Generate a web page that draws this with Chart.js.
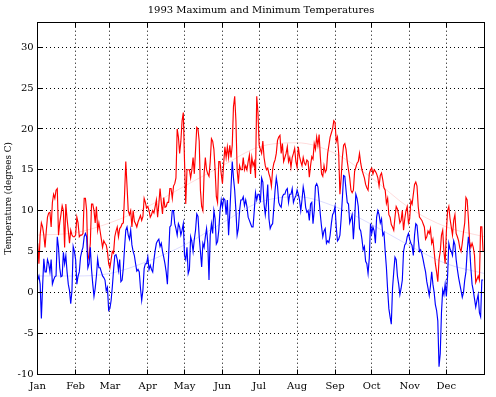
<!DOCTYPE html>
<html>
<head>
<meta charset="utf-8">
<title>1993 Maximum and Minimum Temperatures</title>
<script src="https://cdn.jsdelivr.net/npm/chart.js@4/dist/chart.umd.min.js"></script>
<style>
  html, body { margin: 0; padding: 0; background: #fff; }
  canvas { display: block; }
</style>
</head>
<body>
<canvas id="tempChart" width="496" height="397"></canvas>
<script>
// month ticks (day of year of the 1st of each month)
const monthLabels = ['Jan', 'Feb', 'Mar', 'Apr', 'May', 'Jun', 'Jul', 'Aug', 'Sep', 'Oct', 'Nov', 'Dec'];
const monthStarts = [1, 32, 60, 91, 121, 152, 182, 213, 244, 274, 305, 335];
const yTicks = [-10, -5, 0, 5, 10, 15, 20, 25, 30];

// daily maximum, degrees C (1 Jan .. 31 Dec)
const maxTemps = [
  6, 3.5, 7, 8.5, 8, 7, 5.5, 7.5, 9.2, 9.7,
  9.8, 8, 11, 12, 11.5, 12.5, 12.7, 7, 8.5, 9.5,
  10.6, 10, 5.5, 10.8, 9, 7.6, 6, 7.6, 7, 6.8,
  6.8, 7, 9.2, 8.5, 6.8, 7, 7, 7.2, 11.5, 11.5,
  10, 4, 4.5, 6, 10.8, 10.8, 10, 8.5, 10.5, 7.6,
  8.5, 7.5, 6.5, 5.5, 6.3, 6, 5.8, 5, 3.5, 3,
  4, 5, 4.8, 6.8, 7.5, 8, 6.8, 7.8, 8, 8.4,
  8.5, 12, 16, 13, 10, 9.5, 10, 8, 10, 8.7,
  8.4, 8, 8.6, 9, 9.4, 8.8, 9.3, 11.5, 11, 10.3,
  10.5, 10, 9.2, 9.5, 10, 9.7, 10.5, 11.3, 9.2, 10.8,
  12.7, 11, 9.6, 11.6, 10.4, 10.5, 11, 11, 12.7, 12.7,
  11.5, 13, 13.3, 14, 20, 19, 17, 18.5, 21, 22,
  16, 10.8, 15, 15, 15, 14, 15, 16.5, 14.5, 17.4,
  20.2, 20, 18.5, 12.5, 10.5, 10, 14.5, 16.5, 15, 14.5,
  14.2, 16, 18.8, 18.5, 17.5, 15, 11.7, 11, 16, 16,
  14.5, 13.3, 15.8, 17.8, 16.5, 17.8, 16.5, 18, 16.5, 18,
  22.7, 24, 21, 15, 13.3, 15.5, 15, 15, 16.5, 15,
  15.5, 15, 16, 16.8, 14.5, 16.5, 15.5, 16, 14, 24,
  22, 18, 17.5, 17, 18.5, 16.5, 15.5, 15, 15.2, 14.5,
  14, 13, 15, 15.8, 16.2, 17, 18.6, 19, 19.2, 17,
  18.2, 16, 16.5, 17, 17.8, 16, 16.5, 15.3, 16.5, 17,
  17.6, 16, 15.3, 17.8, 16.6, 16, 15.5, 16.5, 15.8, 15.6,
  16.2, 16, 14.1, 15.5, 16.6, 16.3, 18.2, 17.5, 19, 18,
  19.3, 16.6, 14.5, 14.2, 15.5, 14.7, 15, 17, 18, 19,
  19.5, 20, 21, 20.8, 18.5, 19, 17, 12, 14, 16.5,
  18, 18.2, 17.5, 16, 15, 14, 12.5, 12.2, 12.5, 14.8,
  15.3, 15.8, 16, 17, 15.8, 15, 14.5, 14, 13.2, 12.8,
  12.5, 14.5, 15, 15.2, 14.5, 15, 14.8, 14.5, 14, 13,
  14.3, 14.6, 13.8, 12.8, 12.5, 10.9, 11.5, 9.5, 9.2, 8.3,
  8, 7.6, 9.2, 10.5, 10.2, 9.5, 8.5, 8.8, 10, 7.6,
  9, 10, 10.5, 8.5, 9, 11.2, 10.8, 12, 13.2, 13.5,
  13, 10.5, 9.2, 9, 8.8, 8.4, 8, 6.5, 6.8, 7.5,
  7.2, 7.8, 6, 6.5, 5, 3.5, 2.5, 1.3, 4, 5,
  7, 7.6, 5, 3.5, 7.4, 10, 10.5, 9, 8, 7,
  8.8, 9.5, 7.2, 6.8, 6.3, 5.4, 5, 6, 7.4, 8.5,
  11.6, 11.3, 9, 6.2, 5.5, 6, 5.5, 4.5, 1.2, 1.6,
  2, 1.5, 8, 8, 5
];

// daily minimum, degrees C
const minTemps = [
  1.5, 2, 1, -3.2, 0.7, 4.1, 2.5, 2.5, 4, 3.5,
  2.5, 4, 1, 1.5, 1.9, 2, 6.8, 5.5, 3, 1.9,
  2, 4.9, 3.5, 4.5, 2.5, 1, 0.2, -1.4, 0.2, 5.6,
  5, 4, 1, 2, 2.5, 4.3, 5, 5.5, 6.8, 7.2,
  6.8, 3, 3.5, 5.5, 2.8, 1, -0.5, 0.5, 2, 4.1,
  3, 3, 2.5, 2, 1.8, 1.5, 0.2, 0.6, -2.2, -2,
  -1, 0.7, 2.7, 4.5, 4.6, 4, 2.7, 4, 1.3, 1.5,
  3, 5.5, 7.6, 8, 7, 6.5, 7.6, 5.8, 5, 4.5,
  3.5, 2.6, 2.8, 2.5, 0.5, -1, 0.3, 2.9, 3.5, 3.5,
  4.3, 2.8, 3.3, 2.8, 2.5, 4, 5.1, 6, 6.3, 6.5,
  5.6, 6, 5, 4.3, 3.5, 2.5, 1, 4.5, 8, 8.2,
  10, 10, 8.4, 7.8, 7, 8.4, 8, 7, 7.6, 8.4,
  4.5, 4, 5.5, 2.3, 2.8, 6.8, 6.2, 5, 6.5, 7.6,
  9.6, 9.3, 6.8, 5, 3.1, 6, 5.5, 6.8, 7.8, 6,
  1.5, 7, 8.4, 7.2, 10, 9, 5.9, 6.2, 7.6, 10,
  11.3, 10.4, 11.5, 11.3, 9.5, 11.3, 7, 9.7, 12.9, 16,
  14, 12.5, 10, 7, 7.8, 10, 11.3, 11.3, 11.7, 10.6,
  11.3, 10.5, 9.2, 8.8, 8.4, 8, 8, 10, 12.2, 11.3,
  12, 12, 11, 14, 13.5, 10.8, 9.5, 11, 13.2, 9,
  7.8, 8.2, 8.4, 10.4, 12.5, 14, 13, 11, 10.6, 10.4,
  11.7, 12, 12, 12.5, 12.7, 11, 12, 12, 12.7, 11,
  11.5, 11.8, 12.5, 12, 11.3, 10, 11.3, 12.9, 12, 10.4,
  9.8, 10, 8.8, 10.8, 11, 8.4, 10, 13, 13.3, 12.9,
  11.3, 9.5, 8, 6.8, 7.5, 7.8, 6, 6.3, 6.1, 7,
  8.4, 9.5, 9.8, 10.5, 8, 6.3, 6.5, 7, 9, 11.5,
  14.3, 14.2, 12.5, 11, 10.8, 8.5, 9, 9.5, 6.5, 8.8,
  12, 11.5, 10.5, 7.8, 7.5, 6.5, 5.2, 5.6, 3.8, 3.5,
  2.3, 4.2, 8.4, 7.2, 8, 7.5, 6, 9.2, 10, 9.5,
  8.5, 9, 7, 7.3, 5, 3, 0.3, -2, -3, -3.9,
  0.5, 2.5, 4.3, 4, 2, 1, -0.3, 0.5, 1.5, 5,
  5.8, 6, 6.8, 7.2, 6.5, 6, 5.7, 4.5, 7, 8.4,
  8.2, 6.5, 5, 5.2, 4.7, 4, 3.2, 2.5, 1.3, 0.5,
  -0.4, 0.8, 2.5, 1, 0, -1.5, -2.2, -3.5, -9.1, -7.5,
  -2.5, 0.3, -0.3, 1, -0.5, 2, 6, 5.3, 5, 4.5,
  6.3, 5.8, 4, 2.8, 1.8, 1, 0.2, -0.6, 0, 1.5,
  2.5, 5, 6.8, 5.5, 3, 1, 0.2, -0.8, -1.8, -1,
  -0.3, -2.5, -3, 1.5, 1.5
];

// faint seasonal curves behind the data
const normalDays = [1, 32, 60, 91, 121, 152, 182, 213, 244, 274, 305, 335, 366];
const normalMax = [7, 7.3, 8.5, 10.5, 13, 15.5, 17.8, 18.3, 17, 14, 10.3, 8, 6.8];
const normalMin = [2, 2, 2.3, 3.8, 5.8, 8.5, 11, 11.7, 10.5, 8.3, 5.7, 3.5, 2.3];

const toPoints = (xs, ys) => ys.map((v, i) => ({ x: xs[i], y: v }));
const days = maxTemps.map((_, i) => i + 1);

const serif = 'DejaVu Serif';

// box round the axes + short inward tick marks
const axesBox = {
  id: 'axesBox',
  afterDraw(chart) {
    const { ctx, chartArea: a, scales } = chart;
    const al = p => Math.round(p - 0.5) + 0.5;
    const L = al(a.left), R = al(a.right), T = al(a.top), B = al(a.bottom);
    ctx.save();
    ctx.strokeStyle = '#000';
    ctx.lineWidth = 1;
    ctx.setLineDash([]);
    ctx.strokeRect(L, T, R - L, B - T);
    ctx.beginPath();
    scales.x.ticks.forEach(t => {
      const px = al(scales.x.getPixelForValue(t.value));
      ctx.moveTo(px, B); ctx.lineTo(px, B - 5);
      ctx.moveTo(px, T); ctx.lineTo(px, T + 5);
    });
    scales.y.ticks.forEach(t => {
      const py = al(scales.y.getPixelForValue(t.value));
      ctx.moveTo(L, py); ctx.lineTo(L + 5, py);
      ctx.moveTo(R, py); ctx.lineTo(R - 5, py);
    });
    ctx.stroke();
    ctx.restore();
  }
};

new Chart(document.getElementById('tempChart'), {
  type: 'line',
  data: {
    datasets: [
      {
        label: 'Minimum',
        data: toPoints(days, minTemps),
        borderColor: '#0000ff',
        borderWidth: 1.15,
        pointRadius: 0,
        tension: 0,
        order: 1
      },
      {
        label: 'Maximum',
        data: toPoints(days, maxTemps),
        borderColor: '#ff0000',
        borderWidth: 1.15,
        pointRadius: 0,
        tension: 0,
        order: 2
      },
      {
        label: 'Normal max',
        data: toPoints(normalDays, normalMax),
        borderColor: 'rgba(255, 0, 0, 0.14)',
        borderWidth: 1,
        pointRadius: 0,
        cubicInterpolationMode: 'monotone',
        order: 3
      },
      {
        label: 'Normal min',
        data: toPoints(normalDays, normalMin),
        borderColor: 'rgba(0, 0, 255, 0.14)',
        borderWidth: 1,
        pointRadius: 0,
        cubicInterpolationMode: 'monotone',
        order: 4
      }
    ]
  },
  options: {
    responsive: false,
    animation: false,
    devicePixelRatio: 1,
    layout: { padding: { left: 0, right: 11.7, top: 0, bottom: 0 } },
    plugins: {
      legend: { display: false },
      tooltip: { enabled: false },
      title: {
        display: true,
        text: '1993 Maximum and Minimum Temperatures',
        fullSize: false,
        color: '#000',
        font: { family: serif, size: 10, weight: 'normal' },
        padding: { top: 4, bottom: 6.7 }
      }
    },
    scales: {
      x: {
        type: 'linear',
        min: 1,
        max: 366,
        afterBuildTicks: s => { s.ticks = monthStarts.map(v => ({ value: v })); },
        afterFit: s => { s.height = 23; },
        ticks: {
          autoSkip: false,
          maxRotation: 0,
          padding: 6,
          color: '#000',
          font: { family: serif, size: 10 },
          callback: (v, i) => monthLabels[i]
        },
        grid: { color: '#000', lineWidth: 1, drawTicks: false },
        border: { display: false, dash: [1, 3] }
      },
      y: {
        min: -10,
        max: 33,
        afterBuildTicks: s => { s.ticks = yTicks.map(v => ({ value: v })); },
        afterFit: s => { s.width = 37.7; },
        ticks: {
          padding: 4,
          color: '#000',
          font: { family: serif, size: 10 }
        },
        grid: { color: '#000', lineWidth: 1, drawTicks: false },
        border: { display: false, dash: [1, 3] },
        title: {
          display: true,
          text: 'Temperature (degrees C)',
          color: '#000',
          font: { family: serif, size: 8.8 },
          padding: { top: 3.4, bottom: 0 }
        }
      }
    }
  },
  plugins: [axesBox]
});
</script>
</body>
</html>
